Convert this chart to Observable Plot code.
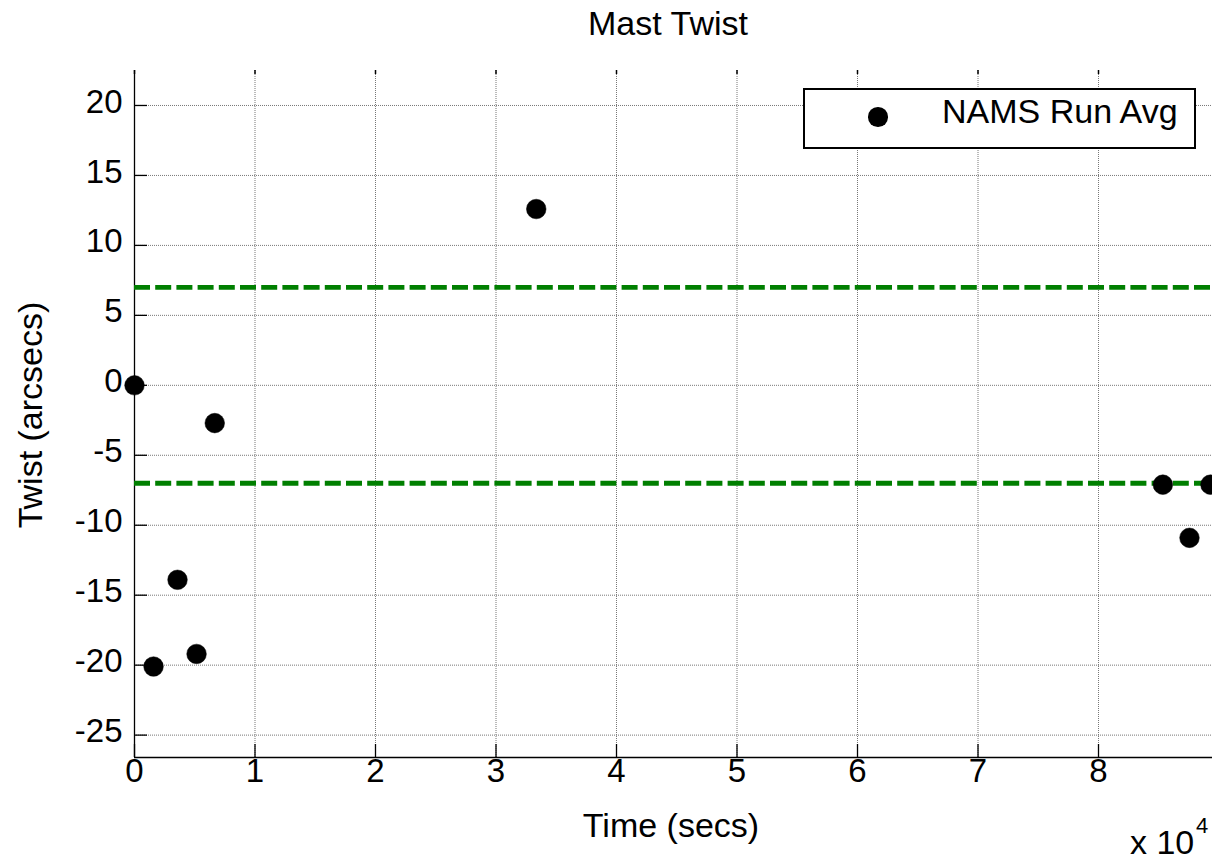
<!DOCTYPE html>
<html>
<head>
<meta charset="utf-8">
<script src="https://cdn.jsdelivr.net/npm/d3@7"></script>
<script src="https://cdn.jsdelivr.net/npm/@observablehq/plot@0.6"></script>
<style>
  html, body { margin: 0; padding: 0; background: #fff; }
  #wrap { position: relative; width: 1212px; height: 860px; overflow: hidden; font-family: "Liberation Sans", Arial, Helvetica, sans-serif; color: #000; }
  #wrap svg { position: absolute; left: 0; top: 0; }
  .lbl { position: absolute; font-size: 34px; line-height: 34px; white-space: nowrap; }
</style>
</head>
<body>
<div id="wrap"></div>
<script>
// ---- data ----
const timeSecs = [0, 1580, 3570, 5150, 6660, 33340, 85340, 87550, 89290];
const twistArcsec = [0, -20.1, -13.9, -19.2, -2.7, 12.6, -7.1, -10.9, -7.1];
const limitLines = [7, -7];
const xTicks = [0, 10000, 20000, 30000, 40000, 50000, 60000, 70000, 80000];
const yTicks = [-25, -20, -15, -10, -5, 0, 5, 10, 15, 20];
const xDomain = [0, 89460];
const yDomain = [-26.6, 22.5];
const titleText = "Mast Twist";
const xLabel = "Time (secs)";
const yLabel = "Twist (arcsecs)";
const legendLabel = "NAMS Run Avg";

const points = timeSecs.map((t, i) => ({t, v: twistArcsec[i]}));

const W = 1212, H = 860;
const mL = 134, mR = 0, mT = 70, mB = 103;
const innerW = W - mL - mR, innerH = H - mT - mB;

const chart = Plot.plot({
  width: W, height: H,
  marginLeft: mL, marginRight: mR, marginTop: mT, marginBottom: mB,
  style: {fontFamily: "Liberation Sans, Arial, Helvetica, sans-serif", fontSize: "33px", background: "white", color: "black", overflow: "visible"},
  x: {domain: xDomain, axis: null},
  y: {domain: yDomain, axis: null},
  marks: [
    Plot.gridX(xTicks, {stroke: "#777", strokeOpacity: 1, strokeWidth: 1, strokeDasharray: "1,1"}),
    Plot.gridY(yTicks, {stroke: "#777", strokeOpacity: 1, strokeWidth: 1, strokeDasharray: "1,1"}),
    // axis lines
    Plot.ruleX([xDomain[0]], {stroke: "black", strokeWidth: 1.3}),
    Plot.ruleY([yDomain[0]], {stroke: "black", strokeWidth: 1.3}),
    // inward ticks
    Plot.ruleX(xTicks, {x: d => d, insetTop: innerH - 13, stroke: "black", strokeWidth: 1.3}),
    Plot.ruleX(xTicks, {x: d => d, insetBottom: innerH - 4, stroke: "black", strokeWidth: 1.5}),
    Plot.ruleY(yTicks, {y: d => d, insetRight: innerW - 13, stroke: "black", strokeWidth: 1.3}),
    // tick labels
    Plot.text(xTicks, {x: d => d, frameAnchor: "bottom", dy: 24.4, text: d => String(d / 10000), fontSize: 33, fill: "black"}),
    Plot.text(yTicks, {y: d => d, frameAnchor: "left", dx: -12, dy: -3.5, textAnchor: "end", text: d => String(d), fontSize: 33, fill: "black"}),
    // limit lines
    Plot.ruleY(limitLines, {stroke: "#007f00", strokeWidth: 4.8, strokeDasharray: "16,5.2"}),
    // data
    Plot.dot(points, {x: "t", y: "v", r: 9.8, fill: "black", stroke: "black", strokeWidth: 0.5})
  ]
});

const wrap = document.getElementById("wrap");
wrap.appendChild(chart);

function addLabel(text, css) {
  const d = document.createElement("div");
  d.className = "lbl";
  d.textContent = text;
  Object.assign(d.style, css);
  wrap.appendChild(d);
  return d;
}

// title
addLabel(titleText, {left: "468px", top: "6px", width: "400px", textAlign: "center"});
// x label
addLabel(xLabel, {left: "471px", top: "808px", width: "400px", textAlign: "center"});
// y label (rotated)
addLabel(yLabel, {left: "-170px", top: "398px", width: "400px", height: "34px", textAlign: "center", transform: "rotate(-90deg)", transformOrigin: "50% 50%"});
// exponent
addLabel("x 10", {left: "1130px", top: "825px"});
addLabel("4", {left: "1196px", top: "815px", fontSize: "22px", lineHeight: "22px"});

// legend
const leg = document.createElement("div");
Object.assign(leg.style, {position: "absolute", left: "803px", top: "88px", width: "393px", height: "61px", border: "2px solid black", background: "white", boxSizing: "border-box"});
wrap.appendChild(leg);
const mk = document.createElement("div");
Object.assign(mk.style, {position: "absolute", left: (878 - 9.8) + "px", top: (117 - 9.8) + "px", width: "19.6px", height: "19.6px", borderRadius: "50%", background: "black"});
wrap.appendChild(mk);
addLabel(legendLabel, {left: "942px", top: "94px"});
</script>
</body>
</html>
